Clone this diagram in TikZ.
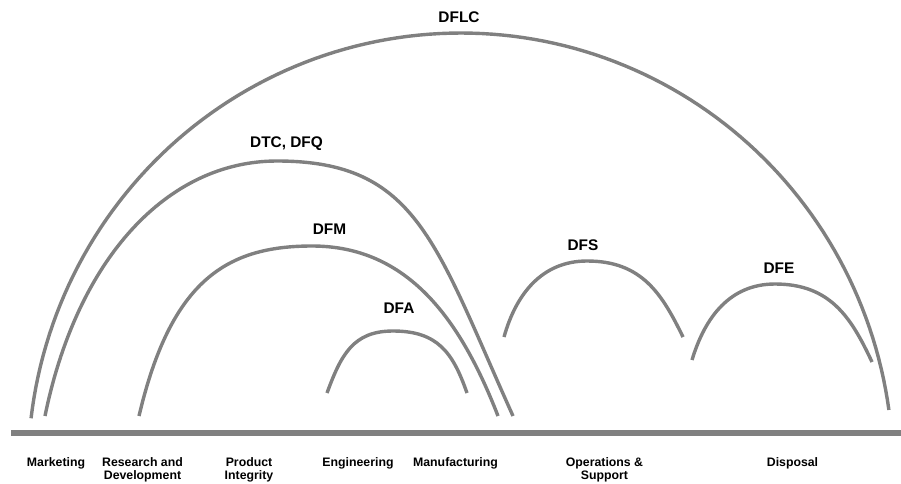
\documentclass[tikz,border=0pt]{standalone}
\usepackage{fontspec}
\setmainfont{Liberation Sans}
\definecolor{arcgray}{RGB}{128,128,128}
\begin{document}
\begin{tikzpicture}[x=1pt,y=-1pt,
  arcline/.style={draw=arcgray,line width=3.4pt},
  arclabel/.style={font=\fontsize{15.4}{18}\selectfont\bfseries,inner sep=0pt,anchor=base},
  phase/.style={font=\fontsize{12.3}{12.4}\selectfont\bfseries,inner sep=0pt,anchor=north,align=center}]
\useasboundingbox (0,0) rectangle (901,483);
% base line
\coordinate (bl) at (11,433);
\coordinate (br) at (901,433);
\draw[draw=arcgray,line width=5.8pt] (bl) -- (br);
% DFLC (elliptical)
\draw[arcline] plot[domain=186.8:270,samples=60,variable=\t] ({461+433*cos(\t)},{470+437*sin(\t)})
  -- plot[domain=270:352.1,samples=60,variable=\t] ({461+432*cos(\t)},{470+437*sin(\t)});
% DTC, DFQ
\coordinate (dtcL) at (45,416);
\coordinate (dtcT) at (277,161);
\coordinate (dtcR) at (513,416);
\draw[arcline] (dtcL) .. controls (77,259) and (167,161) .. (dtcT)
  .. controls (417,161) and (435,243) .. (dtcR);
% DFM
\coordinate (dfmL) at (139,416);
\coordinate (dfmT) at (312,246);
\coordinate (dfmR) at (498,416);
\draw[arcline] (dfmL) .. controls (171,280) and (227,246) .. (dfmT)
  .. controls (407,246) and (460,318) .. (dfmR);
% DFA
\coordinate (dfaL) at (327,393);
\coordinate (dfaT) at (393,331);
\coordinate (dfaR) at (467,393);
\draw[arcline] (dfaL) .. controls (341,355) and (353,331) .. (dfaT)
  .. controls (438,331) and (453,353) .. (dfaR);
% DFS
\coordinate (dfsL) at (504,337);
\coordinate (dfsT) at (587,261);
\coordinate (dfsR) at (683,337);
\draw[arcline] (dfsL) .. controls (516,294) and (542,261) .. (dfsT)
  .. controls (642,261) and (662,294) .. (dfsR);
% DFE
\coordinate (dfeL) at (692,360);
\coordinate (dfeT) at (775,284);
\coordinate (dfeR) at (872,362);
\draw[arcline] (dfeL) .. controls (705,317) and (730,284) .. (dfeT)
  .. controls (830,284) and (851,317) .. (dfeR);
% arc labels
\node[arclabel] (dflc) at (459,22.7) {DFLC};
\node[arclabel] (dtc) at (286.5,147) {DTC, DFQ};
\node[arclabel] (dfm) at (329.5,234) {DFM};
\node[arclabel] (dfa) at (399,313) {DFA};
\node[arclabel] (dfs) at (583,250) {DFS};
\node[arclabel] (dfe) at (779,273) {DFE};
% phase labels
\node[phase] (mkt) at (56,457.5) {Marketing};
\node[phase] (rd) at (142.5,457.5) {Research and\\Development};
\node[phase] (pi) at (249,457.5) {Product\\Integrity};
\node[phase] (eng) at (358,457.5) {Engineering};
\node[phase] (man) at (455.5,457.5) {Manufacturing};
\node[phase] (ops) at (604.5,457.5) {Operations \&\\Support};
\node[phase] (dis) at (792.5,457.5) {Disposal};
\end{tikzpicture}
\end{document}
